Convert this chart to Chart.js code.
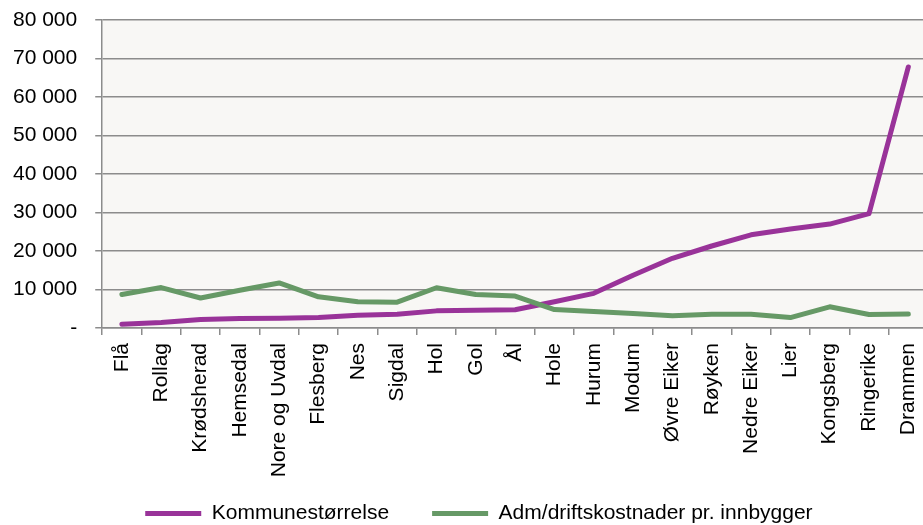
<!DOCTYPE html>
<html>
<head>
<meta charset="utf-8">
<script src="https://cdn.jsdelivr.net/npm/chart.js@4/dist/chart.umd.min.js"></script>
<style>
    html, body { margin: 0; padding: 0; background: #fff; overflow: hidden; }
    #wrap { width: 930px; height: 525px; }
</style>
</head>
<body>
<div id="wrap"><canvas id="kommuneChart"></canvas></div>
<script>
const kommuner = ['Flå', 'Rollag', 'Krødsherad', 'Hemsedal', 'Nore og Uvdal', 'Flesberg', 'Nes', 'Sigdal',
    'Hol', 'Gol', 'Ål', 'Hole', 'Hurum', 'Modum', 'Øvre Eiker', 'Røyken', 'Nedre Eiker', 'Lier',
    'Kongsberg', 'Ringerike', 'Drammen'];

const kommunestorrelse = [950, 1400, 2200, 2450, 2550, 2750, 3300, 3550, 4450, 4600, 4750, 6800,
    9000, 13700, 18100, 21300, 24200, 25700, 27000, 29700, 67800];

const admKostnader = [8700, 10500, 7800, 9800, 11700, 8100, 6800, 6700, 10450, 8700, 8300, 4800,
    4300, 3750, 3200, 3600, 3600, 2700, 5500, 3500, 3650];

const yTicks = [0, 10000, 20000, 30000, 40000, 50000, 60000, 70000, 80000];

const FONT = { family: '"Liberation Sans", Arial, sans-serif', size: 21 };

// grå bakgrunn bare i plottområdet
const plotBackground = {
    id: 'plotBackground',
    beforeDraw(chart) {
        const { ctx, chartArea } = chart;
        ctx.save();
        ctx.fillStyle = '#f8f7f5';
        ctx.fillRect(chartArea.left, chartArea.top, chartArea.right - chartArea.left, chartArea.bottom - chartArea.top);
        ctx.restore();
    }
};

function formatTall(value) {
    if (value === 0) return '-';
    return String(value).replace(/\B(?=(\d{3})+(?!\d))/g, ' ');
}

const ctx = document.getElementById('kommuneChart').getContext('2d');
new Chart(ctx, {
    type: 'line',
    data: {
        labels: kommuner,
        datasets: [{
            label: 'Kommunestørrelse',
            data: kommunestorrelse,
            borderColor: '#993399',
            backgroundColor: '#993399',
            borderWidth: 5,
            borderCapStyle: 'round',
            borderJoinStyle: 'round',
            pointRadius: 0,
            tension: 0,
            order: 1
        }, {
            label: 'Adm/driftskostnader pr. innbygger',
            data: admKostnader,
            borderColor: '#669966',
            backgroundColor: '#669966',
            borderWidth: 5,
            borderCapStyle: 'round',
            borderJoinStyle: 'round',
            pointRadius: 0,
            tension: 0,
            order: 0
        }]
    },
    options: {
        responsive: true,
        maintainAspectRatio: false,
        animation: false,
        layout: { padding: { left: -5, right: 2, top: 20, bottom: -9 } },
        plugins: {
            legend: {
                position: 'bottom',
                fullSize: false,
                align: 'start',
                labels: {
                    usePointStyle: true,
                    pointStyle: 'line',
                    pointStyleWidth: 56,
                    color: '#000',
                    font: FONT,
                    padding: 43,
                    sort: (a, b) => a.datasetIndex - b.datasetIndex
                }
            },
            tooltip: { enabled: false }
        },
        scales: {
            x: {
                offset: true,
                afterFit(axis) {
                    axis.height = 132; // etikettene får gå ned mot legenden
                    axis.paddingLeft = 0;
                    axis.paddingRight = 0;
                    axis._computeLabelArea = () => null; // ikke klipp etikettene
                },
                grid: {
                    offset: true,
                    drawOnChartArea: false,
                    drawTicks: true,
                    tickLength: 7,
                    color: '#8c8c8c',
                    lineWidth: 1.5
                },
                border: { color: '#8c8c8c', width: 1.5 },
                ticks: {
                    autoSkip: false,
                    minRotation: 90,
                    maxRotation: 90,
                    padding: 8,
                    color: '#000',
                    font: FONT
                }
            },
            y: {
                min: 0,
                max: 80000,
                afterBuildTicks(axis) {
                    axis.ticks = yTicks.map(v => ({ value: v }));
                },
                afterFit(axis) {
                    axis.paddingTop = 0;
                    axis.paddingBottom = 0;
                },
                grid: {
                    color: '#8c8c8c',
                    lineWidth: 1.5,
                    tickLength: 7
                },
                border: { color: '#8c8c8c', width: 1.5 },
                ticks: {
                    padding: 18,
                    color: '#000',
                    font: FONT,
                    callback: value => formatTall(value)
                }
            }
        }
    },
    plugins: [plotBackground]
});
</script>
</body>
</html>
